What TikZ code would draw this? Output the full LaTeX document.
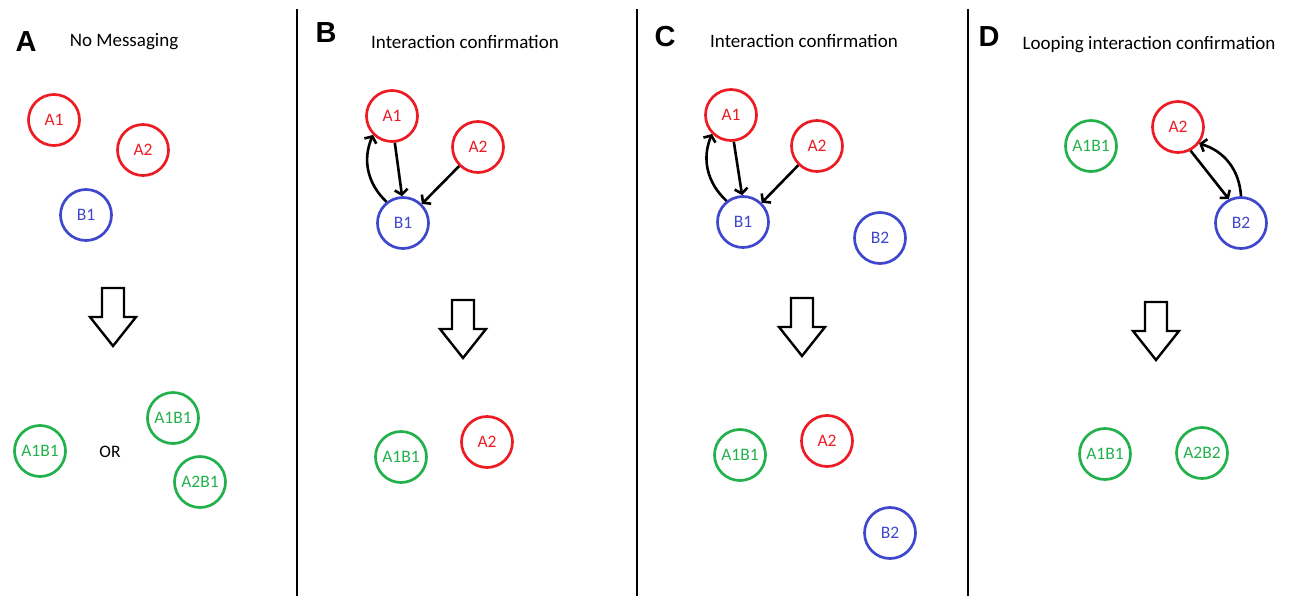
\documentclass[tikz,border=0pt]{standalone}
\usepackage{fontspec}
\setmainfont{Carlito}
\newfontfamily\panelfont{Liberation Sans}
\usetikzlibrary{arrows.meta}

\definecolor{agentred}{RGB}{237,28,36}
\definecolor{agentblue}{RGB}{63,72,204}
\definecolor{agentgreen}{RGB}{34,177,76}

\begin{document}
\begin{tikzpicture}[
        x=1pt, y=1pt,
        agent/.style={circle, draw, line width=2.7pt, minimum size=51pt, inner sep=0pt, font=\fontsize{17.5}{20}\selectfont},
        agent_a/.style={agent, draw=agentred, text=agentred},
        agent_b/.style={agent, draw=agentblue, text=agentblue},
        merged/.style={agent, draw=agentgreen, text=agentgreen},
        msg/.style={line width=2.6pt, -{Straight Barb[length=5pt,width=13pt]}},
        result/.style={draw, line width=2.4pt, line join=miter, fill=white},
        divider/.style={line width=2.6pt},
        title/.style={anchor=base, font=\fontsize{19}{23}\selectfont},
        letter/.style={anchor=base, font=\panelfont\bfseries\fontsize{29}{34}\selectfont}
    ]
        \useasboundingbox (0,0) rectangle (1291,-596);

        % dividers between the panels
        \draw[divider] (297,-9) -- (297,-596);
        \draw[divider] (637,-9) -- (637,-596);
        \draw[divider] (968,-9) -- (968,-596);

        % Panel A: no messaging, either pair may merge
        \node[letter] (panela_letter) at (26,-52) {A};
        \node[title] (panela_title) at (124,-47) {No Messaging};
        \node[agent_a] (panela_a1) at (54,-120) {A1};
        \node[agent_a] (panela_a2) at (143,-150) {A2};
        \node[agent_b] (panela_b1) at (86,-215) {B1};
        \draw[result] (102,-288) -- ++(22,0) -- ++(0,-29) -- ++(12,0) -- ++(-23,-29) -- ++(-23,29) -- ++(12,0) -- cycle;
        \node[merged] (panela_a1b1) at (40,-451) {A1B1};
        \node[font=\fontsize{17.5}{20}\selectfont] (panela_or) at (110,-452) {OR};
        \node[merged] (panela_a1b1_alt) at (173,-418) {A1B1};
        \node[merged] (panela_a2b1_alt) at (200,-482) {A2B1};

        % Panel B: B1 confirms A1, A2 is left alone
        \node[letter] (panelb_letter) at (326,-43) {B};
        \node[title] (panelb_title) at (465,-49) {Interaction confirmation};
        \node[agent_a] (panelb_a1) at (392,-116) {A1};
        \node[agent_a] (panelb_a2) at (478,-147) {A2};
        \node[agent_b] (panelb_b1) at (403,-223) {B1};
        \draw[msg] (panelb_a1.-84) -- (panelb_b1.92);
        \draw[msg] (panelb_a2) -- (panelb_b1);
        \draw[msg] (panelb_b1.128) to[bend left=35] (panelb_a1.225);
        \draw[result] (452,-300) -- ++(22,0) -- ++(0,-29) -- ++(12,0) -- ++(-23,-29) -- ++(-23,29) -- ++(12,0) -- cycle;
        \node[merged] (panelb_a1b1) at (401,-457) {A1B1};
        \node[agent_a] (panelb_a2_out) at (487,-442) {A2};

        % Panel C: same as B with an extra B2
        \node[letter] (panelc_letter) at (665,-47) {C};
        \node[title] (panelc_title) at (804,-48) {Interaction confirmation};
        \node[agent_a] (panelc_a1) at (731,-115) {A1};
        \node[agent_a] (panelc_a2) at (817,-146) {A2};
        \node[agent_b] (panelc_b1) at (743,-222) {B1};
        \node[agent_b] (panelc_b2) at (880,-238) {B2};
        \draw[msg] (panelc_a1.-84) -- (panelc_b1.92);
        \draw[msg] (panelc_a2) -- (panelc_b1);
        \draw[msg] (panelc_b1.128) to[bend left=35] (panelc_a1.225);
        \draw[result] (791,-298) -- ++(22,0) -- ++(0,-29) -- ++(12,0) -- ++(-23,-29) -- ++(-23,29) -- ++(12,0) -- cycle;
        \node[merged] (panelc_a1b1) at (740,-455) {A1B1};
        \node[agent_a] (panelc_a2_out) at (827,-441) {A2};
        \node[agent_b] (panelc_b2_out) at (890,-533) {B2};

        % Panel D: A2 and B2 confirm each other
        \node[letter] (paneld_letter) at (989,-47) {D};
        \node[title] (paneld_title) at (1149,-50) {Looping interaction confirmation};
        \node[merged] (paneld_a1b1) at (1091,-146) {A1B1};
        \node[agent_a] (paneld_a2) at (1178,-127) {A2};
        \node[agent_b] (paneld_b2) at (1241,-223) {B2};
        \draw[msg] (paneld_a2.-62) -- (paneld_b2.117);
        \draw[msg] (paneld_b2.90) to[bend right=35] (paneld_a2.-38);
        \draw[result] (1145,-302) -- ++(22,0) -- ++(0,-29) -- ++(12,0) -- ++(-23,-29) -- ++(-23,29) -- ++(12,0) -- cycle;
        \node[merged] (paneld_a1b1_out) at (1105,-454) {A1B1};
        \node[merged] (paneld_a2b2) at (1202,-453) {A2B2};

    \end{tikzpicture}
\end{document}
